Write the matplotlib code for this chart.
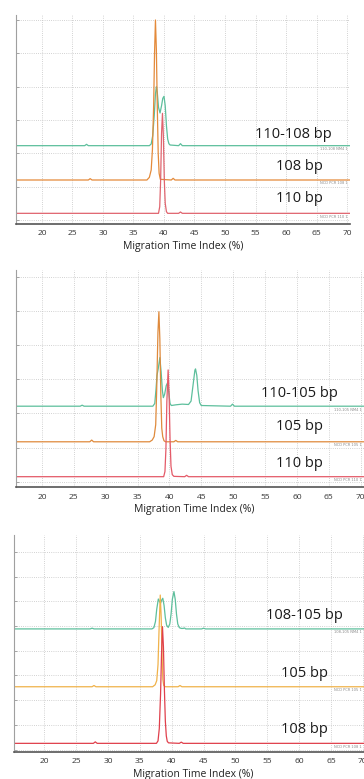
import matplotlib
matplotlib.use("Agg")
import matplotlib.pyplot as plt
import numpy as np

plt.rcParams['font.family'] = ['Open Sans', 'DejaVu Sans']

# ---- data: trace points (x = migration time index %, y = signal above baseline) ----
# panel 1 : 110-108 bp
P1_GREEN_X = [15.7, 27.0, 27.3, 27.6, 37.6, 37.9, 38.15, 38.4, 38.6, 38.75, 38.9, 39.1, 39.35, 39.6,
              39.8, 40.0, 40.2, 40.4, 40.6, 40.8, 41.0, 42.4, 42.7, 43.0, 72.0]
P1_GREEN_Y = [0, 0, 0.04, 0, 0, 0.05, 0.3, 0.9, 1.55, 1.77, 1.6, 1.15, 0.98, 1.2,
              1.42, 1.48, 1.2, 0.6, 0.2, 0.06, 0.02, 0, 0.06, 0, 0]
P1_ORANGE_X = [15.7, 27.6, 27.9, 28.2, 37.2, 37.6, 37.9, 38.1, 38.3, 38.45, 38.6, 38.75, 38.9,
               39.05, 39.2, 39.4, 41.2, 41.5, 41.8, 72.0]
P1_ORANGE_Y = [0, 0, 0.04, 0, 0, 0.08, 0.3, 0.9, 2.2, 3.8, 4.8, 3.9, 2.2,
               0.8, 0.2, 0.02, 0, 0.05, 0, 0]
P1_RED_X = [15.7, 39.1, 39.3, 39.45, 39.6, 39.75, 39.9, 40.05, 40.2, 40.4, 40.6, 42.4, 42.7, 43.0, 72.0]
P1_RED_Y = [0, 0, 0.2, 1.0, 2.4, 3.0, 2.3, 1.0, 0.3, 0.05, 0, 0, 0.04, 0, 0]

# panel 2 : 110-105 bp
P2_GREEN_X = [15.9, 26.0, 26.3, 26.6, 37.4, 37.7, 37.9, 38.05, 38.25, 38.5, 38.7, 38.9, 39.05, 39.25,
              39.5, 39.7, 39.9, 40.1, 40.3, 41.0, 41.5, 42.0, 43.0, 43.4, 43.7, 44.0, 44.1, 44.3,
              44.5, 44.75, 45.0, 49.6, 49.9, 50.2, 72.0]
P2_GREEN_Y = [0, 0, 0.03, 0, 0, 0.08, 0.5, 0.9, 1.1, 1.42, 1.0, 0.45, 0.25, 0.35,
              0.6, 0.68, 0.4, 0.08, 0.02, 0.04, 0.05, 0.06, 0.05, 0.15, 0.6, 1.05, 1.09, 0.9,
              0.45, 0.1, 0.02, 0, 0.06, 0, 0]
P2_ORANGE_X = [15.9, 27.5, 27.8, 28.1, 36.9, 37.3, 37.6, 37.85, 38.0, 38.2, 38.35, 38.5, 38.65,
               38.8, 38.95, 39.15, 39.4, 40.7, 41.0, 41.3, 72.0]
P2_ORANGE_Y = [0, 0, 0.05, 0, 0, 0.05, 0.15, 0.5, 1.5, 3.2, 3.8, 3.0, 1.4,
               0.4, 0.15, 0.03, 0, 0, 0.04, 0, 0]
P2_RED_X = [15.9, 39.1, 39.3, 39.45, 39.6, 39.8, 39.95, 40.1, 40.25, 40.45, 40.7, 42.4, 42.7, 43.0, 72.0]
P2_RED_Y = [0, 0, 0.15, 0.8, 2.2, 3.12, 2.4, 1.1, 0.3, 0.06, 0.01, 0, 0.04, 0, 0]

# panel 3 : 108-105 bp
P3_GREEN_X = [15.3, 27.2, 27.5, 27.8, 36.9, 37.2, 37.45, 37.65, 37.9, 38.1, 38.25, 38.45, 38.6, 38.8,
              39.0, 39.2, 39.45, 39.7, 39.9, 40.1, 40.35, 40.55, 40.75, 40.95, 41.2, 41.5,
              41.8, 42.0, 42.2, 44.7, 45.0, 45.3, 72.0]
P3_GREEN_Y = [0, 0, 0.03, 0, 0, 0.05, 0.3, 0.8, 1.21, 1.1, 1.04, 1.18, 1.24, 0.95,
              0.45, 0.15, 0.06, 0.2, 0.6, 1.2, 1.51, 1.2, 0.6, 0.2, 0.05, 0.02,
              0.02, 0.04, 0, 0, 0.03, 0, 0]
P3_ORANGE_X = [15.3, 27.5, 27.8, 28.1, 37.0, 37.4, 37.65, 37.85, 38.0, 38.2, 38.35, 38.5, 38.6,
               38.75, 39.0, 41.0, 41.3, 41.6, 72.0]
P3_ORANGE_Y = [0, 0, 0.05, 0, 0, 0.08, 0.25, 0.9, 2.2, 3.71, 2.8, 1.2, 0.3,
               0.05, 0, 0, 0.05, 0, 0]
P3_RED_X = [15.3, 27.7, 28.0, 28.3, 37.6, 37.85, 38.05, 38.25, 38.4, 38.55, 38.7, 38.85, 39.0,
            39.15, 39.3, 39.5, 41.2, 41.5, 41.8, 72.0]
P3_RED_Y = [0, 0, 0.06, 0, 0, 0.1, 0.6, 2.0, 3.6, 4.72, 3.9, 2.2, 0.9,
            0.3, 0.08, 0.02, 0, 0.05, 0, 0]

# baselines (stack offsets) per panel: green, orange, red
P1_BASE = [2.23, 1.20, 0.20]
P2_BASE = [2.21, 1.17, 0.15]
P3_BASE = [4.88, 2.54, 0.25]

P1_LABELS = ["110-108 bp", "108 bp", "110 bp"]
P2_LABELS = ["110-105 bp", "105 bp", "110 bp"]
P3_LABELS = ["108-105 bp", "105 bp", "108 bp"]
P1_IDS = ["110-108 NM4 1", "NCD PCR 108 1", "NCD PCR 110 1"]
P2_IDS = ["110-105 NM4 1", "NCD PCR 105 1", "NCD PCR 110 1"]
P3_IDS = ["108-105 NM4 1", "NCD PCR 105 1", "NCD PCR 108 1"]

X_TICKS = [20, 25, 30, 35, 40, 45, 50, 55, 60, 65, 70]

W, H = 364, 779
fig = plt.figure(figsize=(W / 100, H / 100), dpi=100)


def px_axes(left, top, right, bottom):
    return fig.add_axes([left / W, 1 - bottom / H, (right - left) / W, (bottom - top) / H])


panels = [
    dict(box=(16, 15, 350, 224), xlim=(15.74, 70.49), ylim=(-0.12, 6.15), nyt=7,
         traces=[(P1_GREEN_X, P1_GREEN_Y), (P1_ORANGE_X, P1_ORANGE_Y), (P1_RED_X, P1_RED_Y)],
         base=P1_BASE, labels=P1_LABELS, ids=P1_IDS,
         colors=['#5dbf9c', '#e48a3a', '#e0646e'],
         lab_x=[0.829, 0.85, 0.85], lab_y=[0.41, 0.258, 0.104], id_x=0.994),
    dict(box=(16, 270, 372, 487.3), xlim=(15.92, 71.8), ylim=(-0.16, 6.19), nyt=7,
         traces=[(P2_GREEN_X, P2_GREEN_Y), (P2_ORANGE_X, P2_ORANGE_Y), (P2_RED_X, P2_RED_Y)],
         base=P2_BASE, labels=P2_LABELS, ids=P2_IDS,
         colors=['#5dbf9c', '#df8a3c', '#e45a68'],
         lab_x=[0.796, 0.796, 0.796], lab_y=[0.417, 0.264, 0.095], id_x=0.972),
    dict(box=(14.3, 535, 372, 752), xlim=(15.29, 71.44), ylim=(-0.1, 8.68), nyt=9,
         traces=[(P3_GREEN_X, P3_GREEN_Y), (P3_ORANGE_X, P3_ORANGE_Y), (P3_RED_X, P3_RED_Y)],
         base=P3_BASE, labels=P3_LABELS, ids=P3_IDS,
         colors=['#5dbf9c', '#f0b24a', '#e0404c'],
         lab_x=[0.81, 0.81, 0.81], lab_y=[0.612, 0.344, 0.089], id_x=0.971),
]

for p in panels:
    ax = px_axes(*p['box'])
    ax.set_xlim(*p['xlim'])
    ax.set_ylim(*p['ylim'])

    for (xs, ys), b, c in zip(p['traces'], p['base'], p['colors']):
        ax.plot(xs, np.array(ys) + b, color=c, lw=0.9, solid_joinstyle='round')

    for lab, lx, ly in zip(p['labels'], p['lab_x'], p['lab_y']):
        ax.text(lx, ly, lab, transform=ax.transAxes, ha='center', va='baseline',
                fontsize=10.5, color='#1a1a1a')

    for tid, b in zip(p['ids'], p['base']):
        ax.annotate(tid, xy=(p['id_x'], b), xycoords=('axes fraction', 'data'),
                    xytext=(0, -2.5), textcoords='offset points', ha='right', va='center',
                    fontsize=2.6, color='#8a8a8a', family='DejaVu Sans')

    ax.set_xticks(X_TICKS)
    ax.set_yticks(range(p['nyt']))
    ax.set_yticklabels([])
    ax.grid(True, color='#c4c4c4', lw=0.6, linestyle=(0, (1, 1.6)))
    ax.set_axisbelow(True)
    ax.tick_params(axis='x', length=0, pad=4.5, labelsize=6, labelcolor='#333333')
    ax.tick_params(axis='y', length=2, width=0.6, color='#999999', direction='in')
    for s in ('top', 'right'):
        ax.spines[s].set_visible(False)
    ax.spines['left'].set_color('#a0a0a0')
    ax.spines['left'].set_linewidth(0.8)
    ax.spines['bottom'].set_color('#555555')
    ax.spines['bottom'].set_linewidth(1.2)
    ax.set_xlabel('Migration Time Index (%)', fontsize=7.5, color='#222222', labelpad=2.5)

fig.savefig('out.png', dpi=100)
